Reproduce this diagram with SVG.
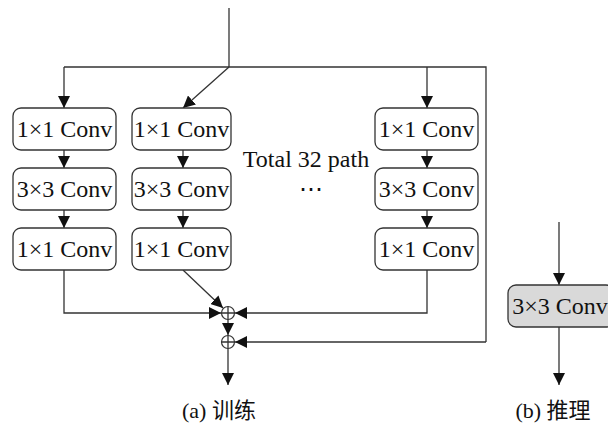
<svg xmlns="http://www.w3.org/2000/svg" width="608" height="429" viewBox="0 0 608 429">
  <style>
    .box { fill: #ffffff; stroke: #333333; stroke-width: 1.3; }
    .box-gray { fill: #d9d9d9; stroke: #333333; stroke-width: 1.3; }
    .lbl { font-family: "Liberation Serif", "Times New Roman", serif; font-size: 24px; fill: #111111; text-anchor: middle; }
    .cap { font-family: "Liberation Serif", "Noto Sans CJK SC", serif; font-size: 22px; fill: #111111; text-anchor: middle; }
    .wire { fill: none; stroke: #333333; stroke-width: 1.3; }
    .sum { fill: #ffffff; stroke: #333333; stroke-width: 1.2; }
  </style>
  <defs>
    <marker id="arrow" markerUnits="userSpaceOnUse" markerWidth="12" markerHeight="12" viewBox="0 0 12 12" refX="12" refY="6" orient="auto">
      <path d="M0,0 L12,6 L0,12 z" fill="#111111"/>
    </marker>
  </defs>

  <rect width="608" height="429" fill="#ffffff"/>

  <!-- connectors -->
  <g id="connectors">
    <!-- input split -->
    <path class="wire" d="M229,8 V67"/>
    <path class="wire" d="M64,67 H486 V342"/>
    <path class="wire" d="M64,67 V108" marker-end="url(#arrow)"/>
    <path class="wire" d="M229,67 L183,108" marker-end="url(#arrow)"/>
    <path class="wire" d="M427,67 V108" marker-end="url(#arrow)"/>
    <!-- inside each path -->
    <path class="wire" d="M64,150 V168" marker-end="url(#arrow)"/>
    <path class="wire" d="M64,210 V228" marker-end="url(#arrow)"/>
    <path class="wire" d="M183,150 V168" marker-end="url(#arrow)"/>
    <path class="wire" d="M183,210 V228" marker-end="url(#arrow)"/>
    <path class="wire" d="M427,150 V168" marker-end="url(#arrow)"/>
    <path class="wire" d="M427,210 V228" marker-end="url(#arrow)"/>
    <!-- path outputs into the first sum -->
    <path class="wire" d="M64,270 V313 H221" marker-end="url(#arrow)"/>
    <path class="wire" d="M183,270 L223,308" marker-end="url(#arrow)"/>
    <path class="wire" d="M427,270 V313 H235" marker-end="url(#arrow)"/>
    <!-- first sum to second sum, bypass, output -->
    <path class="wire" d="M228,320 V335" marker-end="url(#arrow)"/>
    <path class="wire" d="M486,342 H235" marker-end="url(#arrow)"/>
    <path class="wire" d="M228,349 V385" marker-end="url(#arrow)"/>
    <!-- inference branch -->
    <path class="wire" d="M559,222 V285" marker-end="url(#arrow)"/>
    <path class="wire" d="M559,327 V385" marker-end="url(#arrow)"/>
  </g>

  <!-- path 1 -->
  <g id="p1-conv1">
    <rect class="box" x="13" y="108" width="103" height="42" rx="8"/>
    <text class="lbl" x="64.5" y="137">1×1 Conv</text>
  </g>
  <g id="p1-conv3">
    <rect class="box" x="13" y="168" width="103" height="42" rx="8"/>
    <text class="lbl" x="64.5" y="197">3×3 Conv</text>
  </g>
  <g id="p1-conv1b">
    <rect class="box" x="13" y="228" width="103" height="42" rx="8"/>
    <text class="lbl" x="64.5" y="257">1×1 Conv</text>
  </g>

  <!-- path 2 -->
  <g id="p2-conv1">
    <rect class="box" x="132" y="108" width="99" height="42" rx="8"/>
    <text class="lbl" x="181.5" y="137">1×1 Conv</text>
  </g>
  <g id="p2-conv3">
    <rect class="box" x="132" y="168" width="99" height="42" rx="8"/>
    <text class="lbl" x="181.5" y="197">3×3 Conv</text>
  </g>
  <g id="p2-conv1b">
    <rect class="box" x="132" y="228" width="99" height="42" rx="8"/>
    <text class="lbl" x="181.5" y="257">1×1 Conv</text>
  </g>

  <!-- path 32 -->
  <g id="p32-conv1">
    <rect class="box" x="375" y="108" width="103" height="42" rx="8"/>
    <text class="lbl" x="426.5" y="137">1×1 Conv</text>
  </g>
  <g id="p32-conv3">
    <rect class="box" x="375" y="168" width="103" height="42" rx="8"/>
    <text class="lbl" x="426.5" y="197">3×3 Conv</text>
  </g>
  <g id="p32-conv1b">
    <rect class="box" x="375" y="228" width="103" height="42" rx="8"/>
    <text class="lbl" x="426.5" y="257">1×1 Conv</text>
  </g>

  <g id="path-count">
    <text class="lbl" x="306" y="167">Total 32 path</text>
    <text class="lbl" x="311" y="197">⋯</text>
  </g>

  <!-- summation nodes -->
  <g id="sum1">
    <circle class="sum" cx="228" cy="313" r="6.5"/>
    <path class="wire" d="M221.5,313 H234.5 M228,306.5 V319.5" stroke-width="1"/>
  </g>
  <g id="sum2">
    <circle class="sum" cx="228" cy="342" r="6.5"/>
    <path class="wire" d="M221.5,342 H234.5 M228,335.5 V348.5" stroke-width="1"/>
  </g>

  <!-- inference block -->
  <g id="infer-conv3">
    <rect class="box-gray" x="508" y="285" width="106" height="42" rx="8"/>
    <text class="lbl" x="560" y="314">3×3 Conv</text>
  </g>

  <g id="captions">
    <text class="cap" x="219" y="418">(a) 训练</text>
    <text class="cap" x="553" y="418">(b) 推理</text>
  </g>
</svg>
